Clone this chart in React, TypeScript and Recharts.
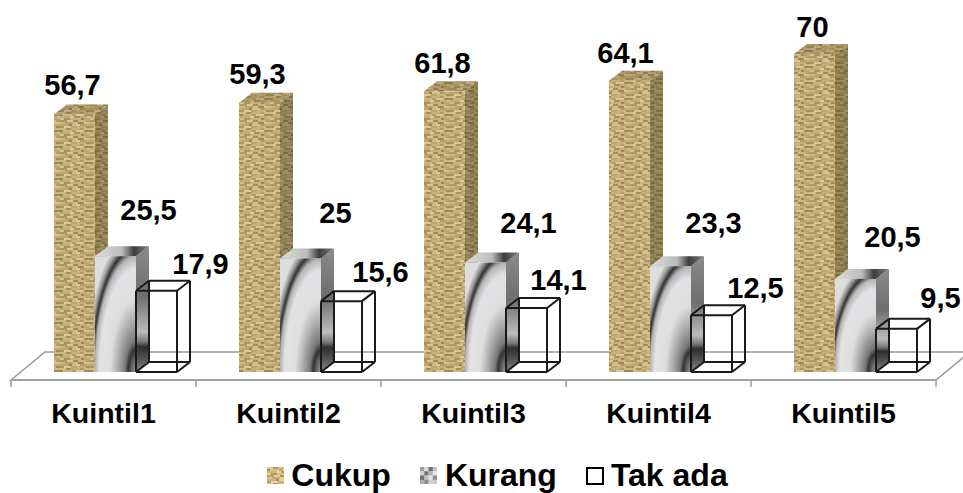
import React from 'react';
import { BarChart, Bar, XAxis, YAxis, Legend, LabelList } from 'recharts';

const categories = ['Kuintil1', 'Kuintil2', 'Kuintil3', 'Kuintil4', 'Kuintil5'];
const cukup = [56.7, 59.3, 61.8, 64.1, 70];
const kurang = [25.5, 25, 24.1, 23.3, 20.5];
const takAda = [17.9, 15.6, 14.1, 12.5, 9.5];

const chartData = categories.map((name, i) => ({
  name,
  Cukup: cukup[i],
  Kurang: kurang[i],
  'Tak ada': takAda[i],
}));

// labels were dragged by hand in the original, so each one has its own nudge
const cukupNudge = [[-2, -29], [-2, -29], [-2, -28], [-4, -28], [-2, -27]];
const kurangNudge = [[33, -46], [35, -45], [43, -40], [43, -43], [37, -42]];
const takAdaNudge = [[44, -27], [39, -29], [32, -28], [44, -27], [44, -31]];

const FONT = '"Liberation Sans", Arial, sans-serif';
const DEPTH_X = 13;
const DEPTH_Y = 10;
const SHIFT_X = 12; // bars stand in the middle of the floor, not on the axis centre

// one row per 2px of the weave: [width, colour] runs
const burlapRows: [number, string][][] = [
  [[6, '#e0cb96'], [5, '#b1945e'], [9, '#d4bb84'], [4, '#bfa36c'], [6, '#dcc690']],
  [[3, '#a98d5a'], [9, '#d8c28c'], [4, '#c2a772'], [8, '#e6d5a4'], [6, '#ad915c']],
  [[10, '#d0b680'], [4, '#e9d9ab'], [6, '#b69a64'], [7, '#cfb57f'], [3, '#e2cf9c']],
  [[4, '#e2d09e'], [6, '#b5985f'], [11, '#d6bf88'], [3, '#a78b58'], [6, '#cbb07a']],
  [[7, '#bca16b'], [6, '#e5d4a3'], [5, '#ae925c'], [8, '#dac38e'], [4, '#c4a972']],
  [[5, '#d9c38d'], [8, '#c4a974'], [5, '#e1cd9a'], [6, '#aa8e5a'], [6, '#e0cc98']],
  [[9, '#cdb37d'], [3, '#a48856'], [8, '#e3d19f'], [5, '#bda26c'], [5, '#d3ba83']],
  [[4, '#b89c66'], [7, '#e7d7a8'], [6, '#c9ae78'], [9, '#d7c08a'], [4, '#af935e']],
];

const mosaicCells = [
  ['#9a9a9a', '#dcdcdc', '#6f6f6f', '#c4c4c4'],
  ['#d0d0d0', '#777777', '#b5b5b5', '#e6e6e6'],
  ['#6c6c6c', '#bcbcbc', '#e2e2e2', '#8f8f8f'],
  ['#b0b0b0', '#8a8a8a', '#cfcfcf', '#c9c9c9'],
];

const Weave = () => (
  <g filter="url(#soften)">
    {burlapRows.map((row, r) => {
      let cursor = 0;
      return row.map(([w, c], k) => {
        const cell = <rect key={`${r}-${k}`} x={cursor} y={r * 2} width={w} height={2} fill={c} />;
        cursor += w;
        return cell;
      });
    })}
  </g>
);

const Defs = () => (
  <defs>
    <filter id="soften" x="0" y="0" width="1" height="1">
      <feGaussianBlur stdDeviation="0.45" edgeMode="wrap" />
    </filter>
    <pattern id="burlap" width="30" height="16" patternUnits="userSpaceOnUse">
      <Weave />
    </pattern>
    <radialGradient id="chrome" cx="1" cy="1" r="1.2">
      <stop offset="0" stopColor="#9a9a9a" />
      <stop offset="0.09" stopColor="#666666" />
      <stop offset="0.16" stopColor="#333333" />
      <stop offset="0.22" stopColor="#777777" />
      <stop offset="0.36" stopColor="#aaaaaa" />
      <stop offset="0.52" stopColor="#dedede" />
      <stop offset="0.74" stopColor="#e2e2e6" />
      <stop offset="0.83" stopColor="#b4b4b4" />
      <stop offset="0.885" stopColor="#333333" />
      <stop offset="0.94" stopColor="#999999" />
      <stop offset="1" stopColor="#dddddd" />
    </radialGradient>
    <linearGradient id="chromeSide" x1="0" y1="0" x2="0" y2="1">
      <stop offset="0" stopColor="#8a8a8a" />
      <stop offset="0.4" stopColor="#6e6e6e" />
      <stop offset="0.68" stopColor="#bcbcbc" />
      <stop offset="0.76" stopColor="#777777" />
      <stop offset="0.8" stopColor="#2e2e2e" />
      <stop offset="0.9" stopColor="#555555" />
      <stop offset="1" stopColor="#888888" />
    </linearGradient>
    <linearGradient id="chromeTop" x1="0" y1="0" x2="1" y2="0">
      <stop offset="0" stopColor="#dddddd" />
      <stop offset="0.5" stopColor="#bbbbbb" />
      <stop offset="0.72" stopColor="#3d3d3d" />
      <stop offset="1" stopColor="#808080" />
    </linearGradient>
  </defs>
);

const Floor = () => (
  <polygon points="11,380 45,352 970,352 936,380" fill="#ffffff" stroke="#9a9a9a" strokeWidth={1.5} />
);

const solidBar = (front: string, side: string, top: string, shade: boolean) => (props: any) => {
  const x = props.x + SHIFT_X;
  const { y, width: w, height: h } = props;
  const sidePts = `${x + w},${y} ${x + w + DEPTH_X},${y - DEPTH_Y} ${x + w + DEPTH_X},${y + h - DEPTH_Y} ${x + w},${y + h}`;
  const topPts = `${x},${y} ${x + DEPTH_X},${y - DEPTH_Y} ${x + w + DEPTH_X},${y - DEPTH_Y} ${x + w},${y}`;
  return (
    <g>
      <polygon points={sidePts} fill={side} />
      {shade && <polygon points={sidePts} fill="#3a3418" fillOpacity={0.42} />}
      <polygon points={topPts} fill={top} />
      {shade && <polygon points={topPts} fill="#5a4a28" fillOpacity={0.3} />}
      <rect x={x} y={y} width={w} height={h} fill={front} />
      {shade && <rect x={x} y={y} width={w} height={h} fill="#6b5a30" fillOpacity={0.12} />}
    </g>
  );
};

const WireBar = (props: any) => {
  const x = props.x + SHIFT_X;
  const { y, width: w, height: h } = props;
  const b = y + h;
  const edges = [
    [x, y, x + w, y], [x + w, y, x + w, b], [x + w, b, x, b], [x, b, x, y],
    [x + DEPTH_X, y - DEPTH_Y, x + w + DEPTH_X, y - DEPTH_Y],
    [x + w + DEPTH_X, y - DEPTH_Y, x + w + DEPTH_X, b - DEPTH_Y],
    [x + w + DEPTH_X, b - DEPTH_Y, x + DEPTH_X, b - DEPTH_Y],
    [x + DEPTH_X, b - DEPTH_Y, x + DEPTH_X, y - DEPTH_Y],
    [x, y, x + DEPTH_X, y - DEPTH_Y], [x + w, y, x + w + DEPTH_X, y - DEPTH_Y],
    [x + w, b, x + w + DEPTH_X, b - DEPTH_Y], [x, b, x + DEPTH_X, b - DEPTH_Y],
  ];
  return (
    <g stroke="#1a1a1a" strokeWidth={2}>
      {edges.map(([x1, y1, x2, y2], i) => (
        <line key={i} x1={x1} y1={y1} x2={x2} y2={y2} />
      ))}
    </g>
  );
};

const nudgedLabel = (nudge: number[][]) => (props: any) => {
  const { x, y, width, value, index } = props;
  const [dx, dy] = nudge[index];
  return (
    <text
      x={x + SHIFT_X + width / 2 + dx}
      y={y + dy}
      textAnchor="middle"
      dominantBaseline="central"
      fontFamily={FONT}
      fontWeight="bold"
      fontSize={29}
      fill="#000000"
    >
      {String(value).replace('.', ',')}
    </text>
  );
};

const BAND = 185;

const BoundaryTick = (props: any) => {
  const { x, y, payload, index, visibleTicksCount } = props;
  const left = x - BAND / 2;
  return (
    <g>
      <line x1={left} y1={y} x2={left} y2={y + 7} stroke="#9a9a9a" strokeWidth={1.5} />
      {index === visibleTicksCount - 1 && (
        <line x1={left + BAND} y1={y} x2={left + BAND} y2={y + 7} stroke="#9a9a9a" strokeWidth={1.5} />
      )}
      <text
        x={x}
        y={y + 33}
        textAnchor="middle"
        dominantBaseline="central"
        fontFamily={FONT}
        fontWeight="bold"
        fontSize={28.5}
        fill="#000000"
      >
        {payload.value}
      </text>
    </g>
  );
};

const Swatch = ({ name }: { name: string }) => {
  if (name === 'Cukup') {
    return (
      <svg width={17} height={17} style={{ marginRight: 7 }}>
        <rect width={17} height={17} fill="url(#burlap)" />
      </svg>
    );
  }
  if (name === 'Kurang') {
    return (
      <svg width={17} height={17} style={{ marginRight: 8 }}>
        {mosaicCells.map((row, r) =>
          row.map((c, k) => <rect key={`${r}-${k}`} x={k * 4.25} y={r * 4.25} width={4.5} height={4.5} fill={c} />),
        )}
      </svg>
    );
  }
  return (
    <svg width={18} height={18} style={{ marginRight: 7 }}>
      <rect x={1} y={1} width={16} height={16} fill="#ffffff" stroke="#000000" strokeWidth={2} />
    </svg>
  );
};

const legendGaps = [0, 29, 29];

const LegendRow = ({ payload }: any) => (
  <div
    style={{
      display: 'flex',
      justifyContent: 'center',
      alignItems: 'center',
      height: 63,
      paddingTop: 28,
      paddingLeft: 48,
      boxSizing: 'border-box',
      fontFamily: FONT,
      fontWeight: 'bold',
      fontSize: 32,
      color: '#000000',
    }}
  >
    {(payload ?? []).map((entry: any, i: number) => (
      <span key={entry.value} style={{ display: 'flex', alignItems: 'center', marginLeft: legendGaps[i] }}>
        <Swatch name={entry.value} />
        {entry.value}
      </span>
    ))}
  </div>
);

export default function App() {
  return (
    <div style={{ width: 963, height: 493, background: '#ffffff', overflow: 'hidden' }}>
      <style>{'body { margin: 0; }'}</style>
      <BarChart
        width={963}
        height={493}
        data={chartData}
        margin={{ top: 20, right: 27, bottom: 0, left: 11 }}
        barCategoryGap={31}
        barGap={0}
      >
        <Defs />
        <Floor />
        <XAxis
          dataKey="name"
          axisLine={{ stroke: '#9a9a9a', strokeWidth: 1.5 }}
          tickLine={false}
          tickSize={0}
          tickMargin={0}
          tick={<BoundaryTick />}
          height={50}
          interval={0}
        />
        <YAxis hide domain={[-1.76, 77.5]} />
        <Legend verticalAlign="bottom" height={63} content={<LegendRow />} />
        <Bar dataKey="Cukup" isAnimationActive={false} shape={solidBar('url(#burlap)', 'url(#burlap)', 'url(#burlap)', true)}>
          <LabelList dataKey="Cukup" content={nudgedLabel(cukupNudge)} />
        </Bar>
        <Bar dataKey="Kurang" isAnimationActive={false} shape={solidBar('url(#chrome)', 'url(#chromeSide)', 'url(#chromeTop)', false)}>
          <LabelList dataKey="Kurang" content={nudgedLabel(kurangNudge)} />
        </Bar>
        <Bar dataKey="Tak ada" isAnimationActive={false} shape={WireBar}>
          <LabelList dataKey="Tak ada" content={nudgedLabel(takAdaNudge)} />
        </Bar>
      </BarChart>
    </div>
  );
}
